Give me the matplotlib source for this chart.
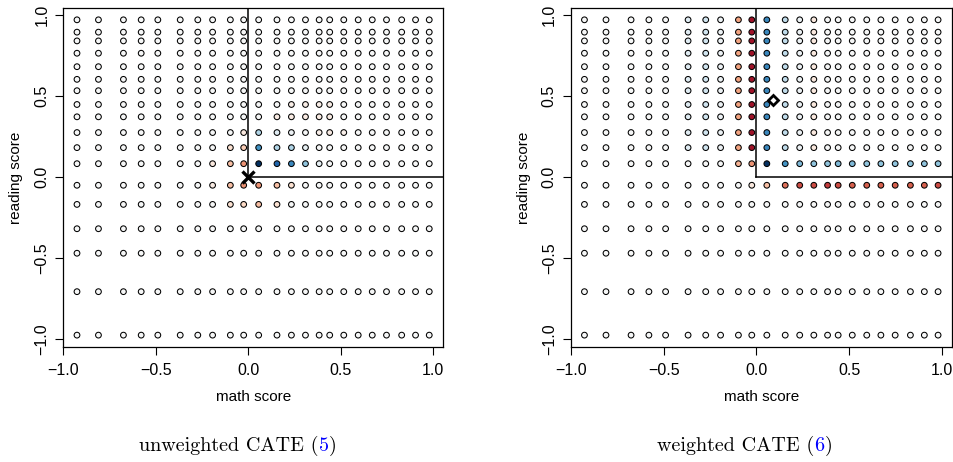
import numpy as np
import matplotlib
matplotlib.use("Agg")
import matplotlib.pyplot as plt
from matplotlib.colors import Normalize

plt.rcParams['font.family'] = ['Liberation Sans', 'DejaVu Sans']

# grid of (math, reading) cells
math_x = [-0.926, -0.810, -0.675, -0.579, -0.489, -0.368, -0.273, -0.193, -0.097, -0.025,
          0.056, 0.155, 0.233, 0.309, 0.383, 0.440, 0.516, 0.594, 0.670, 0.747, 0.829, 0.904, 0.978]
read_y = [0.969, 0.893, 0.839, 0.763, 0.680, 0.602, 0.532, 0.447, 0.371, 0.274, 0.181, 0.082,
          -0.051, -0.169, -0.319, -0.470, -0.707, -0.975]  # top to bottom

z = [0.0] * 23
# unweighted CATE, rows top to bottom (estimated colour level, -1 red .. +1 blue)
cate_unw = [z, z, z, z, z, z, z,
    [0]*12 + [-0.07, -0.07, -0.07, -0.07] + [0]*7,
    [0]*11 + [-0.08, -0.08, -0.08, -0.08, -0.08] + [0]*7,
    [0]*9 + [-0.1, 0.3, 0.12, 0.05, 0, -0.06, -0.08, -0.06] + [0]*6,
    [0]*8 + [-0.15, -0.25, 0.6, 0.3, 0.3, 0.08] + [0]*9,
    [0]*7 + [-0.1, -0.3, -0.45, 1.0, 0.8, 0.65, 0.4, 0.08] + [0]*8,
    [0]*7 + [-0.08, -0.3, -0.45, -0.45, -0.3, -0.15] + [0]*10,
    [0]*8 + [-0.15, -0.2, -0.3, -0.15] + [0]*11,
    z, z, z, z]

upper_w = [0, 0, 0, 0, 0, 0.12, 0.2, 0.05, -0.4, -0.85, 0.65, 0.25, 0.05, -0.1,
           0, 0, 0, 0, 0, 0, 0, 0, 0]
# weighted CATE, rows top to bottom
cate_w = [upper_w] * 11 + [
    [0]*8 + [-0.35, -0.45, 1.0, 0.6, 0.45, 0.4, 0.4, 0.45, 0.45, 0.4, 0.4, 0.4, 0.4, 0.4, 0.4],
    [0]*9 + [-0.1, -0.3, -0.55, -0.65, -0.65, -0.7, -0.65, -0.6, -0.6, -0.6, -0.6, -0.6, -0.6, -0.65],
    z, z, z, z, z]

unw_point = (0.0, 0.0)
w_point = (0.09, 0.474)
ticks = [-1.0, -0.5, 0.0, 0.5, 1.0]
tick_labels = ['\u22121.0', '\u22120.5', '0.0', '0.5', '1.0']

fig = plt.figure(figsize=(9.54, 4.62), dpi=100)
ax1 = fig.add_axes([63.3/954, 1 - 347.3/462, 380/954, 339/462])
ax2 = fig.add_axes([570.7/954, 1 - 347.3/462, 381.5/954, 339/462])

X, Y = np.meshgrid(math_x, read_y)
norm = Normalize(-1, 1)

for ax, vals in [(ax1, cate_unw), (ax2, cate_w)]:
    V = np.array(vals)
    ax.scatter(X.ravel(), Y.ravel(), c=V.ravel(), cmap='RdBu', norm=norm, s=17,
               edgecolors='black', linewidths=0.75, zorder=2)
    # treated region
    ax.plot([0, 0], [1.2, 0], color='black', lw=1.1, zorder=3)
    ax.plot([0, 1.2], [0, 0], color='black', lw=1.1, zorder=3)
    ax.set_xlim(-1, 1.054)
    ax.set_ylim(-1.05, 1.04)
    ax.set_xticks(ticks)
    ax.set_yticks(ticks)
    ax.set_xticklabels(tick_labels)
    ax.set_yticklabels(tick_labels, rotation=90, va='center')
    ax.tick_params(direction='out', length=6, width=0.8, labelsize=11.5, pad=4)
    ax.tick_params(axis='x', pad=5)
    for sp in ax.spines.values():
        sp.set_linewidth(0.9)
    ax.set_xlabel('math score', fontsize=11, labelpad=9)
    ax.set_ylabel('reading score', fontsize=11, labelpad=8)

ax1.plot(*unw_point, marker='x', color='black', markersize=8, mew=2.4, zorder=4)
ax2.plot(*w_point, marker='D', color='black', mfc='white', markersize=5.5, mew=2, zorder=4)


def caption(cx, y, parts):
    r = fig.canvas.get_renderer()
    texts, widths = [], []
    for s, col in parts:
        t = fig.text(0, y, s, color=col, family='cmr10', fontsize=14.5, va='baseline', ha='left')
        texts.append(t)
        widths.append(t.get_window_extent(r).width)
    x = cx - sum(widths) / 2
    for t, w in zip(texts, widths):
        t.set_x(x / 954)
        x += w


caption(238, 1 - 451/462, [('unweighted CATE (', 'black'), ('5', 'blue'), (')', 'black')])
caption(745, 1 - 451/462, [('weighted CATE (', 'black'), ('6', 'blue'), (')', 'black')])

fig.savefig('out.png', dpi=100)
